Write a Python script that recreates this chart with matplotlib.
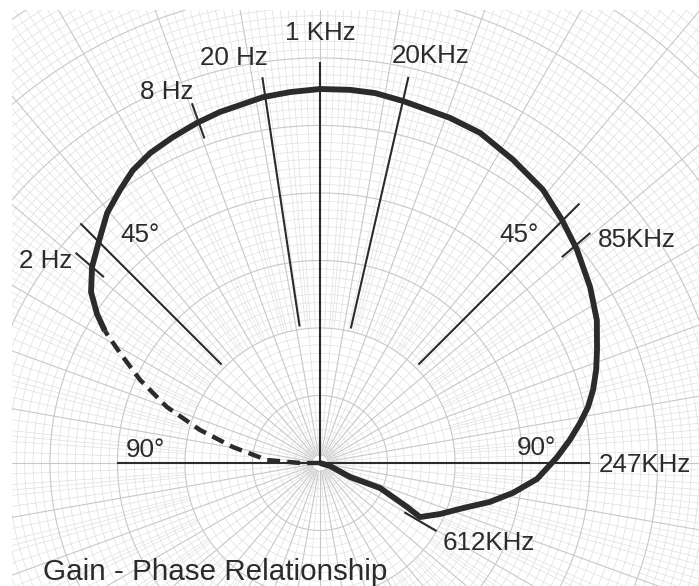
import numpy as np
import matplotlib
matplotlib.use("Agg")
import matplotlib.pyplot as plt
from matplotlib.collections import LineCollection
from matplotlib.patches import Rectangle

plt.rcParams['font.family'] = ['Liberation Sans', 'DejaVu Sans']

# ---------------- data ----------------
# phase in degrees (positive = leading, drawn to the left of the 0 deg axis),
# gain normalised to the mid-band (1 KHz) value
lf_phase = [90.0, 90.0, 86.8, 79.6, 74.6, 69.9, 65.2, 61.2, 58.45]
lf_gain = [0.0, 0.053, 0.142, 0.237, 0.333, 0.436, 0.530, 0.610, 0.675]

resp_phase = [58.45, 56.25, 53.25, 49.3, 44.7, 40.4, 36.2, 32.6, 28.7, 24.3,
              19.9, 15.9, 8.85, 4.6, 0.0, -4.6, -8.5, -12.9, -20.6, -25.9,
              -32.5, -39.2, -44.9, -50.3, -56.9, -62.7, -67.8, -71.4, -75.0,
              -78.2, -81.3, -84.7, -88.6, -91.0, -94.2, -98.8, -102.9, -107.5,
              -113.0, -118.4, -116.8, -115.0, -112.6, -115.0, -106.7, -105.0]
resp_gain = [0.675, 0.717, 0.764, 0.804, 0.839, 0.878, 0.905, 0.929, 0.945,
             0.956, 0.967, 0.976, 0.990, 0.995, 1.000, 1.001, 1.000, 0.993,
             0.986, 0.981, 0.961, 0.943, 0.917, 0.893, 0.862, 0.833, 0.800,
             0.779, 0.756, 0.732, 0.703, 0.671, 0.634, 0.610, 0.582, 0.522,
             0.466, 0.401, 0.349, 0.304, 0.261, 0.215, 0.174, 0.089, 0.028,
             0.0]

# radial reference lines: phase, inner gain, outer gain
guide_phase = [45.0, 8.5, 0.0, -12.9, -45.0, 90.0, -90.0]
guide_inner = [0.372, 0.369, 0.0, 0.369, 0.372, 0.0, 0.0]
guide_outer = [0.906, 1.043, 1.072, 1.059, 0.981, 0.543, 0.722]

# frequency tick marks on the curve
marker_labels = ['2 Hz', '8 Hz', '85KHz', '612KHz']
marker_phase = [49.3, 19.6, -49.6, -120.3]
marker_gain = [0.812, 0.971, 0.899, 0.311]

# text labels (text, x, y in gain units)
labels = [('1 KHz', 0.0, 1.131), ('20 Hz', -0.230, 1.064),
          ('20KHz', 0.297, 1.070), ('8 Hz', -0.409, 0.973),
          ('2 Hz', -0.733, 0.521), ('45°', -0.481, 0.591),
          ('45°', 0.532, 0.591), ('85KHz', 0.848, 0.578),
          ('90°', -0.468, 0.016), ('90°', 0.578, 0.021),
          ('247KHz', 0.869, -0.024), ('612KHz', 0.452, -0.233)]
title = 'Gain - Phase Relationship'


def to_xy(ph, g):
    ph = np.radians(np.asarray(ph, float))
    g = np.asarray(g, float)
    return -g * np.sin(ph), g * np.cos(ph)


ink = '#2b2b2b'
fig = plt.figure(figsize=(6.99, 5.86), dpi=100)
ax = fig.add_axes([0, 0, 1, 1])
ax.set_xlim(-320 / 374, 379 / 374)
ax.set_ylim(-123 / 374, 463 / 374)
ax.axis('off')

# ---------------- polar graph-paper background ----------------
clip = Rectangle((12 / 699, 0), 1, 1 - 10 / 586, transform=ax.transAxes,
                 facecolor='none', edgecolor='none')
ax.add_patch(clip)
major = 0.1805
minor = major / 8
rmax = 1.75
t = np.linspace(0, 2 * np.pi, 721)
minor_segs, major_segs = [], []
for k, r in enumerate(np.arange(minor, rmax, minor)):
    seg = np.column_stack([r * np.cos(t), r * np.sin(t)])
    (major_segs if k % 8 == 7 else minor_segs).append(seg)
for a in range(0, 360):
    if a % 10 == 0:
        r0, target = 0.02, major_segs
    elif a % 5 == 0:
        r0, target = 0.03, minor_segs
    elif a % 2 == 0:
        r0, target = 2 * major, minor_segs
    else:
        r0, target = 5 * major, minor_segs
    ar = np.radians(a)
    target.append(np.array([[r0 * np.cos(ar), r0 * np.sin(ar)],
                            [rmax * np.cos(ar), rmax * np.sin(ar)]]))
lc1 = LineCollection(minor_segs, colors='#e0e0e0', linewidths=0.5, zorder=1)
lc2 = LineCollection(major_segs, colors='#c8c8c8', linewidths=0.8, zorder=1)
for lc in (lc1, lc2):
    ax.add_collection(lc)
    lc.set_clip_path(clip)

# ---------------- reference lines ----------------
for ph, gi, go in zip(guide_phase, guide_inner, guide_outer):
    x, y = to_xy([ph, ph], [gi, go])
    ax.plot(x, y, color=ink, lw=1.5, solid_capstyle='butt', zorder=3)

# ---------------- response curve ----------------
x, y = to_xy(lf_phase, lf_gain)
ax.plot(x, y, color=ink, lw=3.2, linestyle=(0, (2.9, 1.6)),
        dash_capstyle='butt', zorder=4)
x, y = to_xy(resp_phase, resp_gain)
ax.plot(x, y, color=ink, lw=4.2, solid_joinstyle='round',
        solid_capstyle='butt', zorder=5)

# frequency ticks
half = 0.05
for ph, g in zip(marker_phase, marker_gain):
    x, y = to_xy([ph, ph], [g - half, g + half])
    ax.plot(x, y, color=ink, lw=1.5, solid_capstyle='butt', zorder=6)

# ---------------- text ----------------
for s, lx, ly in labels:
    ax.text(lx, ly, s, fontsize=18.7, color=ink, ha='center', va='baseline',
            zorder=7)
ax.text(43 / 699, 1 - 580 / 586, title, transform=ax.transAxes,
        fontsize=21.3, color=ink, ha='left', va='baseline', zorder=7)

fig.savefig('out.png', dpi=100, facecolor='white')
